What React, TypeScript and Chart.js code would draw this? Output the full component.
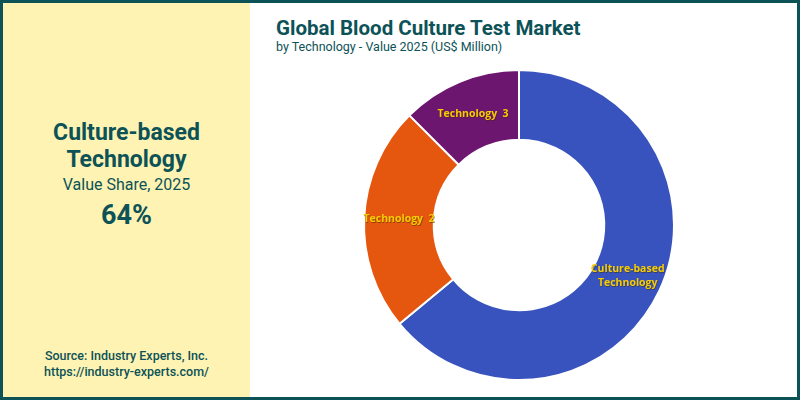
import React, { useEffect, useRef } from "react";
import { Chart, registerables } from "chart.js";

Chart.register(...registerables);

const categories = ["Culture-based Technology", "Technology 2", "Technology 3"];
const sliceLabels = [["Culture-based", "Technology"], ["Technology  2"], ["Technology  3"]];
const values = [64, 23.5, 12.5];
const colors = ["#3853bd", "#e5570f", "#6c166f"];

const TEAL = "#0c5257";

const labelPlugin = {
  id: "sliceLabels",
  afterDatasetsDraw(chart: any) {
    const ctx = chart.ctx;
    const meta = chart.getDatasetMeta(0);
    ctx.save();
    ctx.font = "bold 10.5px 'Open Sans', sans-serif";
    ctx.textAlign = "center";
    ctx.textBaseline = "middle";
    meta.data.forEach((arc: any, i: number) => {
      const p = arc.getCenterPoint();
      const lines = sliceLabels[i];
      const lh = 14;
      lines.forEach((ln, j) => {
        const y = p.y + (j - (lines.length - 1) / 2) * lh;
        ctx.fillStyle = "rgba(60,40,0,0.5)";
        ctx.fillText(ln, p.x + 0.6, y + 0.6);
        ctx.fillStyle = "#f7cc00";
        ctx.fillText(ln, p.x, y);
      });
    });
    ctx.restore();
  },
};

export default function App() {
  const ref = useRef<HTMLCanvasElement | null>(null);
  useEffect(() => {
    if (!ref.current) return;
    const chart = new Chart(ref.current, {
      type: "doughnut",
      data: {
        labels: categories,
        datasets: [
          {
            data: values,
            backgroundColor: colors,
            borderColor: "#ffffff",
            borderWidth: 2,
          },
        ],
      },
      options: {
        responsive: false,
        animation: false,
        cutout: "55%",
        layout: { padding: 5 },
        plugins: { legend: { display: false }, tooltip: { enabled: false } },
      },
      plugins: [labelPlugin],
    });
    return () => chart.destroy();
  }, []);

  return (
    <div
      style={{
        position: "absolute",
        left: 0,
        top: 0,
        width: 800,
        height: 400,
        boxSizing: "border-box",
        border: `3px solid ${TEAL}`,
        background: "#ffffff",
        fontFamily: "Roboto, sans-serif",
        overflow: "hidden",
      }}
    >
      <div
        style={{
          position: "absolute",
          left: 0,
          top: 0,
          width: 247,
          height: 394,
          background: "#fef3b3",
          color: TEAL,
          textAlign: "center",
        }}
      >
        <div style={{ position: "absolute", top: 116, width: "100%", fontWeight: 700, fontSize: 23, lineHeight: "27px" }}>
          Culture-based
          <br />
          Technology
        </div>
        <div style={{ position: "absolute", top: 172, width: "100%", fontSize: 16, lineHeight: "20px" }}>
          Value Share, 2025
        </div>
        <div style={{ position: "absolute", top: 196, width: "100%", fontWeight: 700, fontSize: 27, lineHeight: "32px" }}>
          64%
        </div>
        <div style={{ position: "absolute", top: 345, width: "100%", fontWeight: 500, fontSize: 12.5, lineHeight: "16px" }}>
          Source: Industry Experts, Inc.
          <br />
          https://industry-experts.com/
        </div>
      </div>
      <div style={{ position: "absolute", left: 273, top: 13, color: TEAL, fontWeight: 700, fontSize: 20.5, lineHeight: "24px" }}>
        Global Blood Culture Test Market
      </div>
      <div style={{ position: "absolute", left: 273, top: 36, color: TEAL, fontSize: 12.5, lineHeight: "16px" }}>
        by Technology - Value 2025 (US$ Million)
      </div>
      <canvas
        ref={ref}
        width={322}
        height={322}
        style={{ position: "absolute", left: 355, top: 61, width: 322, height: 322 }}
      />
    </div>
  );
}
